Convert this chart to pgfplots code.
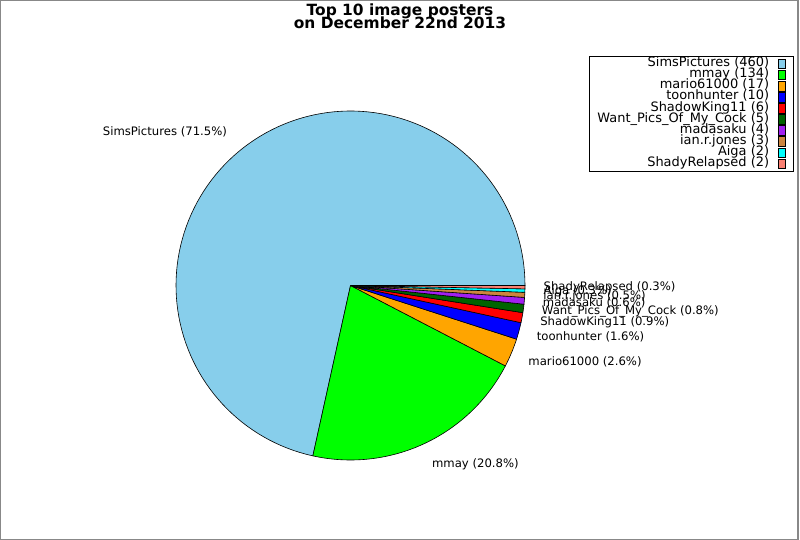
\documentclass[border=0pt]{standalone}
\usepackage{fontspec}
\setmainfont{DejaVu Sans}
\usepackage{pgfplots}
\pgfplotsset{compat=1.18}
\definecolor{cSims}{HTML}{87CEEB}
\definecolor{cMmay}{HTML}{00FF00}
\definecolor{cMario}{HTML}{FFA500}
\definecolor{cToon}{HTML}{0000FF}
\definecolor{cShadow}{HTML}{FF0000}
\definecolor{cWant}{HTML}{006400}
\definecolor{cMada}{HTML}{A020F0}
\definecolor{cIan}{HTML}{CD853F}
\definecolor{cAiga}{HTML}{00FFFF}
\definecolor{cShady}{HTML}{FA8072}
\definecolor{frame}{HTML}{888888}
% #1 start count, #2 end count (cumulative, total 643), #3 colour, #4 label anchor/shift, #5 pie label, #6 legend text
\newcommand{\slice}[6]{%
  \addplot[fill=#3, draw=black, line width=0.6bp, domain={#1*360/643}:{#2*360/643}, samples=120]
    ({350.5+174.5*cos(x)},{285.5-174.5*sin(x)}) -- (axis cs:350.5,285.5) -- cycle;
  \addlegendentry{#6}
  \node[#4, inner sep=0pt, font=\fontsize{11.7}{13}\selectfont]
    at (axis cs:{350.5+197*cos((#1+#2)*180/643)},{285.5-197*sin((#1+#2)*180/643)}) {#5};
}
\begin{document}
\begin{tikzpicture}
\begin{axis}[
  scale only axis, width=800bp, height=540bp,
  xmin=0, xmax=800, ymin=0, ymax=540, y dir=reverse,
  hide axis, clip=false,
  legend style={
    at={(axis cs:794,56)}, anchor=north east,
    draw=black, line width=0.6bp, fill=white,
    font=\fontsize{13}{13}\selectfont,
    inner xsep=8bp, inner ysep=2bp,
    row sep=0bp, column sep=9bp,
    nodes={inner sep=0bp, text height=8.4bp, text depth=2.7bp},
  },
  legend cell align=right,
  legend plot pos=right,
  legend image code/.code={\draw[#1] (0bp,-4.8bp) rectangle (7bp,4.8bp);},
]
\path (axis cs:0,0) rectangle (axis cs:800,540);
\draw[frame, line width=1.5bp] (axis cs:0.75,0.75) rectangle (axis cs:798,539.25);
\slice{0}{460}{cSims}{anchor=east}{SimsPictures (71.5\%)}{SimsPictures (460)}
\slice{460}{594}{cMmay}{anchor=west, xshift=-2bp}{mmay (20.8\%)}{mmay (134)}
\slice{594}{611}{cMario}{anchor=west, xshift=-4bp}{mario61000 (2.6\%)}{mario61000 (17)}
\slice{611}{621}{cToon}{anchor=west, xshift=-4bp}{toonhunter (1.6\%)}{toonhunter (10)}
\slice{621}{627}{cShadow}{anchor=west, xshift=-4bp}{ShadowKing11 (0.9\%)}{ShadowKing11 (6)}
\slice{627}{632}{cWant}{anchor=west, xshift=-4bp}{Want\_Pics\_Of\_My\_Cock (0.8\%)}{Want\_Pics\_Of\_My\_Cock (5)}
\slice{632}{636}{cMada}{anchor=west, xshift=-4bp}{madasaku (0.6\%)}{madasaku (4)}
\slice{636}{639}{cIan}{anchor=west, xshift=-4bp}{ian.r.jones (0.5\%)}{ian.r.jones (3)}
\slice{639}{641}{cAiga}{anchor=west, xshift=-4bp}{Aiga (0.3\%)}{Aiga (2)}
\slice{641}{643}{cShady}{anchor=west, xshift=-4bp}{ShadyRelapsed (0.3\%)}{ShadyRelapsed (2)}
\node[anchor=base, inner sep=0pt, font=\fontsize{15.5}{15.5}\selectfont\bfseries] at (axis cs:400,16) {Top 10 image posters};
\node[anchor=base, inner sep=0pt, font=\fontsize{15.5}{15.5}\selectfont\bfseries] at (axis cs:400,28.7) {on December 22nd 2013};
\end{axis}
\end{tikzpicture}
\end{document}
